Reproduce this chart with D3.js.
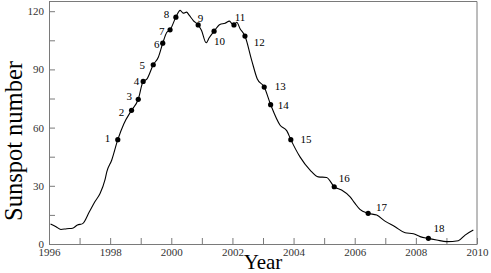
<!DOCTYPE html>
<html>
<head>
<meta charset="utf-8">
<script src="https://cdn.jsdelivr.net/npm/d3@7"></script>
<style>
  body { margin: 0; background: #fff; }
</style>
</head>
<body>
<div id="viz"></div>
<script>
// smoothed sunspot number
let curveYears = [1996.05, 1996.23, 1996.39, 1996.58, 1996.77, 1996.93, 1997.1, 1997.32, 1997.5, 1997.67,
  1997.83, 1997.89, 1998.05, 1998.25, 1998.45, 1998.7, 1998.92, 1999.08, 1999.2, 1999.41,
  1999.58, 1999.72, 1999.85, 1999.96, 2000.15, 2000.29, 2000.39, 2000.5, 2000.59, 2000.72,
  2000.88, 2000.99, 2001.14, 2001.24, 2001.4, 2001.59, 2001.76, 2001.9, 2001.97, 2002.05,
  2002.14, 2002.25, 2002.41, 2002.63, 2002.81, 2003.04, 2003.25, 2003.56, 2003.78, 2003.91,
  2004.21, 2004.54, 2004.81, 2005.08, 2005.33, 2005.57, 2005.85, 2006.01, 2006.17, 2006.44,
  2006.72, 2006.99, 2007.32, 2007.65, 2007.92, 2008.14, 2008.41, 2008.68, 2009.01, 2009.39,
  2009.61, 2009.88]
let curveValues = [10.3, 8.9, 7.5, 7.9, 8.1, 9.8, 10.5, 16.6, 21.8, 26,
  33, 37.2, 43.2, 53.8, 62, 68.9, 74.6, 83.8, 85, 92.4,
  96.4, 103.5, 109, 110.4, 116.9, 120.4, 119, 119.5, 117.8, 115.2,
  112.9, 110, 103.7, 106.3, 109.7, 113.2, 113.8, 114.9, 113.8, 112.9,
  114.3, 111, 107.2, 94.7, 85.2, 80.9, 71.8, 61.2, 58.3, 53.8,
  44.9, 38.1, 34.6, 34.3, 29.5, 27.8, 24.3, 20.9, 17.8, 15.8,
  14.9, 11.8, 8.9, 5.8, 5.3, 3.8, 2.9, 2.1, 1.2, 1.7,
  4.6, 7.2]

// numbered events on the curve
let eventIds = d3.range(1, 19)
let eventYears = [1998.25, 1998.7, 1998.92, 1999.08, 1999.41, 1999.72, 1999.96, 2000.15, 2000.88,
  2001.4, 2002.05, 2002.41, 2003.04, 2003.25, 2003.91, 2005.33, 2006.44, 2008.41]
let eventValues = [53.8, 68.9, 74.6, 83.8, 92.4, 103.5, 110.4, 116.9, 112.9,
  109.7, 112.9, 107.2, 80.9, 71.8, 53.8, 29.5, 15.8, 2.9]

let xTicks = d3.range(1996, 2011)
let yTicks = d3.range(0, 121, 15)

let width = 491, height = 273
let serif = 'Liberation Serif, DejaVu Serif, serif'

let svg = d3.select('#viz').append('svg')
  .attr('width', width)
  .attr('height', height)
  .attr('font-family', serif)

let x = d3.scaleLinear().domain([1996, 2010]).range([49, 477])
let y = d3.scaleLinear().domain([0, 125]).range([244, 1.5])

let axisColor = '#7a7a7a'

// x axis, ticks pointing in
let xAxis = svg.append('g')
  .attr('transform', `translate(0,${y(0)})`)
  .call(d3.axisBottom(x)
    .tickValues(xTicks)
    .tickSize(-6)
    .tickSizeOuter(0)
    .tickPadding(4)
    .tickFormat(d => d % 2 === 0 ? d : ''))

let yAxis = svg.append('g')
  .attr('transform', `translate(${x(1996)},0)`)
  .call(d3.axisLeft(y)
    .tickValues(yTicks)
    .tickSize(-6)
    .tickSizeOuter(0)
    .tickPadding(5)
    .tickFormat(d => d % 30 === 0 ? d : ''))

// d3 puts sans-serif on axis groups, put the serif back
svg.selectAll('g').attr('font-family', serif).attr('font-size', 11)
svg.selectAll('.domain, .tick line').attr('stroke', axisColor)
svg.selectAll('.tick text').attr('fill', '#333')

// top and right border
svg.append('path')
  .attr('d', `M${x(1996)},${y(125)}H${x(2010)}V${y(0)}`)
  .attr('fill', 'none')
  .attr('stroke', axisColor)

// the curve
let pts = curveYears.map((t, i) => [t, curveValues[i]])
svg.append('path')
  .datum(pts)
  .attr('fill', 'none')
  .attr('stroke', '#000')
  .attr('stroke-width', 1.1)
  .attr('d', d3.line().x(d => x(d[0])).y(d => y(d[1])).curve(d3.curveMonotoneX))

// event markers
let events = eventIds.map((id, i) => ({id: id, t: eventYears[i], v: eventValues[i]}))
svg.selectAll('circle.ev')
  .data(events)
  .enter()
  .append('circle')
  .attr('class', 'ev')
  .attr('cx', d => x(d.t))
  .attr('cy', d => y(d.v))
  .attr('r', 2.6)
  .attr('fill', '#000')

// label offsets from each marker (dx, dy)
let labelShift = [[-10.4, -1], [-10, 1.7], [-9, -3], [-6.6, -0.3], [-11, 0.7], [-6, 1.3],
  [-8.3, 1.4], [-9.3, -2.7], [2.4, -7], [5.3, 10.3], [6, -8.3], [14.3, 6.6],
  [16, -0.7], [12.6, 0], [15.3, 0], [10, -8.4], [13.4, -6.6], [10.7, -10.6]]

svg.selectAll('text.ev')
  .data(events)
  .enter()
  .append('text')
  .attr('class', 'ev')
  .attr('x', (d, i) => x(d.t) + labelShift[i][0])
  .attr('y', (d, i) => y(d.v) + labelShift[i][1])
  .attr('dy', '0.35em')
  .attr('text-anchor', 'middle')
  .attr('font-size', 11)
  .attr('fill', '#000')
  .text(d => d.id)

// axis titles
svg.append('text')
  .attr('transform', 'translate(22,141) rotate(-90)')
  .attr('text-anchor', 'middle')
  .attr('font-size', 24.5)
  .text('Sunspot number')

svg.append('text')
  .attr('x', 263)
  .attr('y', 269)
  .attr('text-anchor', 'middle')
  .attr('font-size', 21)
  .text('Year')
</script>
</body>
</html>
